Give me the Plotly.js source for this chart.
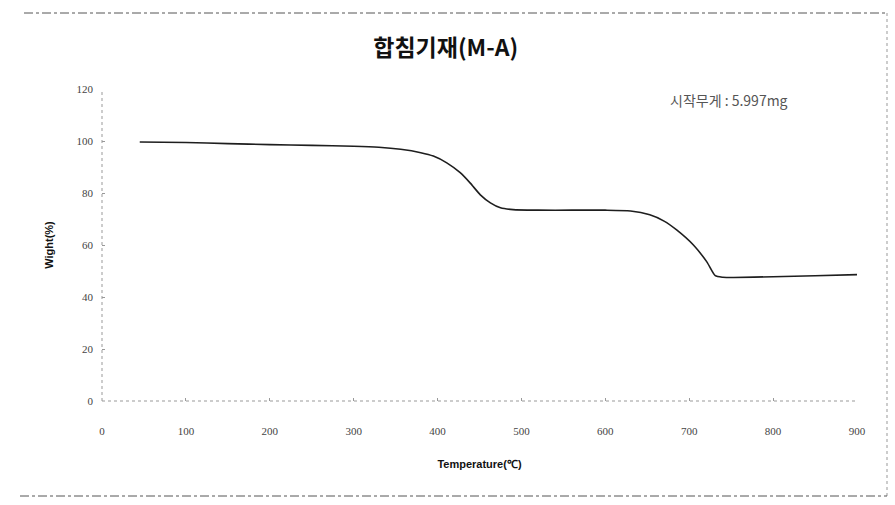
<!DOCTYPE html>
<html>
<head>
<meta charset="utf-8">
<script src="https://cdn.plot.ly/plotly-3.0.1.min.js"></script>
<style>html,body{margin:0;padding:0;background:#fff;}#chart{width:895px;height:505px;}</style>
</head>
<body>
<div id="chart"></div>
<script>
// Data (Temperature in °C, weight in %)
var temperature = [45, 100, 150, 200, 250, 300, 330, 356, 380, 395, 411, 427, 439, 451, 463, 475, 490, 520, 560, 600, 630, 653, 670, 685, 705, 721, 731, 740, 753, 800, 850, 900];
var weight = [99.6, 99.4, 99.0, 98.6, 98.3, 98.0, 97.6, 96.8, 95.5, 94.2, 91.6, 87.8, 83.8, 79.3, 76.2, 74.3, 73.6, 73.4, 73.4, 73.4, 73.1, 71.6, 69.2, 65.8, 60.0, 53.5, 48.2, 47.6, 47.5, 47.8, 48.2, 48.6];
var xTicks = [0, 100, 200, 300, 400, 500, 600, 700, 800, 900];
var yTicks = [0, 20, 40, 60, 80, 100, 120];
var chartTitle = "합침기재(M-A)";
var xTitle = "Temperature(℃)";
var yTitle = "Wight(%)";
var note = "시작무게 : 5.997mg";

var W = 895, H = 505, L = 102, R = 38, T = 89, B = 104;
var pw = W - L - R, ph = H - T - B;
function px(x) { return (x - L) / pw; }
function py(y) { return (H - B - y) / ph; }

var trace = {
  x: temperature, y: weight, type: 'scatter', mode: 'lines',
  line: {color: '#1e1e1e', width: 1.6, shape: 'spline', smoothing: 0.6},
  hoverinfo: 'x+y'
};

var tickFont = {family: 'Liberation Serif, DejaVu Serif, serif', size: 11, color: '#444'};

var layout = {
  width: W, height: H,
  margin: {l: L, r: R, t: T, b: B},
  paper_bgcolor: '#fff', plot_bgcolor: '#fff',
  showlegend: false,
  title: {text: '<b>' + chartTitle + '</b>', x: 0.498, xanchor: 'center', y: 1 - 48 / H, yanchor: 'middle',
          font: {family: 'Noto Sans CJK KR, Noto Sans, sans-serif', size: 23, color: '#111'}},
  xaxis: {range: [0, 900], tickvals: xTicks, ticktext: xTicks.map(String), showgrid: false, zeroline: false,
          showline: false, ticks: 'inside', ticklen: 3, tickcolor: '#999', tickfont: tickFont,
          ticklabelstandoff: 22,
          title: {text: '<b>' + xTitle + '</b>', standoff: 24,
                  font: {family: 'Liberation Sans Narrow, Liberation Sans, Arial, sans-serif', size: 11, color: '#111'}}},
  yaxis: {range: [0, 120], tickvals: yTicks, ticktext: yTicks.map(String), showgrid: false, zeroline: false,
          showline: false, ticks: 'inside', ticklen: 3, tickcolor: '#999', tickfont: tickFont,
          ticklabelstandoff: 8,
          title: {text: '<b>' + yTitle + '</b>', standoff: 20,
                  font: {family: 'Liberation Sans Narrow, Liberation Sans, Arial, sans-serif', size: 11, color: '#111'}}},
  annotations: [{
    xref: 'paper', yref: 'paper', x: px(729), y: py(100), xanchor: 'center', yanchor: 'middle', showarrow: false,
    text: note, font: {family: 'Noto Sans CJK KR, sans-serif', size: 14, color: '#555'}
  }],
  shapes: [
    {type: 'line', xref: 'paper', yref: 'paper', x0: 0, x1: 0, y0: 0, y1: 1, line: {color: '#999', width: 1, dash: 'dot'}},
    {type: 'line', xref: 'paper', yref: 'paper', x0: 0, x1: 1, y0: 0, y1: 0, line: {color: '#999', width: 1, dash: 'dot'}},
    {type: 'line', xref: 'paper', yref: 'paper', x0: px(24), x1: px(887), y0: py(13), y1: py(13), line: {color: '#555', width: 1, dash: 'dashdot'}},
    {type: 'line', xref: 'paper', yref: 'paper', x0: px(887), x1: px(887), y0: py(13), y1: py(496), line: {color: '#999', width: 1, dash: 'dot'}},
    {type: 'line', xref: 'paper', yref: 'paper', x0: px(20), x1: px(887), y0: py(496), y1: py(496), line: {color: '#555', width: 1, dash: 'dashdot'}}
  ]
};

Plotly.newPlot('chart', [trace], layout, {displayModeBar: false, staticPlot: true});
</script>
</body>
</html>
